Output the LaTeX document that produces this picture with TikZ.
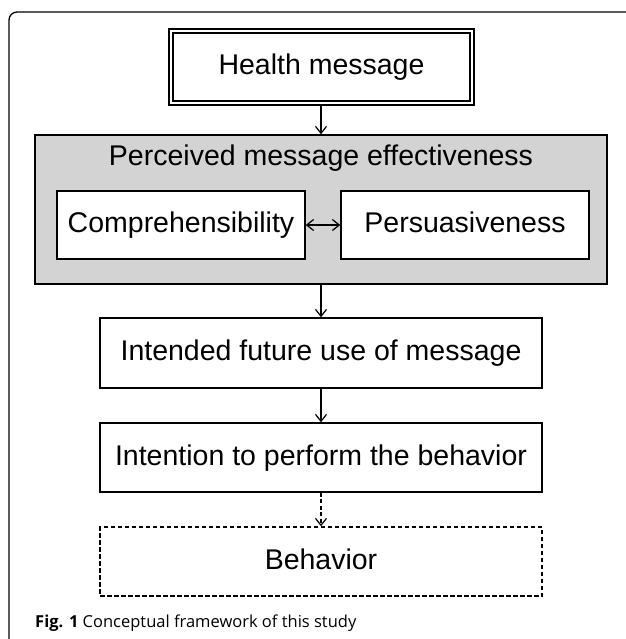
\documentclass[tikz,border=0pt]{standalone}
\usepackage{fontspec}
\setmainfont{Liberation Sans}
\newfontfamily\capfont{Open Sans}
\usetikzlibrary{arrows.meta}
\definecolor{boxgray}{RGB}{211,211,211}
\tikzset{
  x=1pt, y=-1pt,
  boxline/.style={draw=black, line width=1.4pt},
  conn/.style={line width=1.3pt, -{Straight Barb[length=7pt,width=11pt,line width=1.2pt]}},
  conn2/.style={line width=1.3pt, {Straight Barb[length=7pt,width=11pt,line width=1.2pt]}-{Straight Barb[length=7pt,width=11pt,line width=1.2pt]}},
  lbl/.style={font=\fontsize{28.5}{33}\selectfont, inner sep=0pt, text height=20.5pt, text depth=5pt},
}
\begin{document}
\begin{tikzpicture}
\useasboundingbox (0,0) rectangle (625,639);
\fill[white] (0,0) rectangle (625,639);
% outer frame
\draw[line width=1.3pt] (9,640) -- (9,20) arc[start angle=180, end angle=270, radius=8] -- (626,12);

% Health message double box
\draw[line width=1.2pt] (169,29) rectangle (474,105);
\draw[line width=1.2pt] (173,33) rectangle (470,101);
\node[lbl] (hm) at (321.5,67) {Health message};
\coordinate (hmb) at (321,105);

% gray box
\node[boxline, fill=boxgray, minimum width=572pt, minimum height=149pt, inner sep=0pt] (pme) at (321,209.5) {};
\node[lbl] (pmet) at (321,158) {Perceived message effectiveness};
\node[boxline, fill=white, minimum width=248pt, minimum height=68pt, inner sep=0pt] (comp) at (181,225) {};
\node[lbl] at (comp.center) {Comprehensibility};
\node[boxline, fill=white, minimum width=248pt, minimum height=68pt, inner sep=0pt] (pers) at (465,225) {};
\node[lbl] at (pers.center) {Persuasiveness};

% lower boxes
\node[boxline, minimum width=442pt, minimum height=70pt, inner sep=0pt] (ifu) at (321,353) {};
\node[lbl] at (ifu.center) {Intended future use of message};
\node[boxline, minimum width=442pt, minimum height=69pt, inner sep=0pt] (itp) at (321,457.5) {};
\node[lbl] at (itp.center) {Intention to perform the behavior};
\node[boxline, dashed, dash pattern=on 4.5pt off 2.5pt, minimum width=442pt, minimum height=69pt, inner sep=0pt] (beh) at (321,561.5) {};
\node[lbl] at (beh.center) {Behavior};

% connectors
\draw[conn] (hmb) -- (pme.north);
\draw[conn2] (comp.east) -- (pers.west);
\draw[conn] (pme.south) -- (ifu.north);
\draw[conn] (ifu.south) -- (itp.north);
\draw[conn, dash pattern=on 4pt off 2.5pt] (itp.south) -- (beh.north);

% caption
\node[anchor=base west, inner sep=0pt, font=\capfont\fontsize{16.5}{19}\selectfont] (cap) at (35,627) {\textbf{Fig. 1} Conceptual framework of this study};
\end{tikzpicture}
\end{document}
